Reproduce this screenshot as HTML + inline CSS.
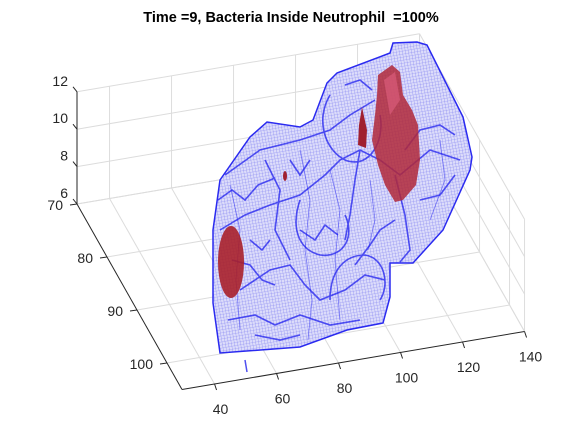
<!DOCTYPE html>
<html><head><meta charset="utf-8"><style>
body{margin:0;background:#fff;}
svg{display:block;font-family:"Liberation Sans",Arial,sans-serif;}
</style></head><body>
<svg id="chart" width="583" height="438" viewBox="0 0 583 438">
<defs>
<pattern id="mesh" width="3" height="3" patternUnits="userSpaceOnUse" patternTransform="rotate(-10)">
<rect width="3" height="3" fill="#dcdcfa"/>
<path d="M0 0H3M0 0V3" stroke="#7c7cf0" stroke-width="0.6"/>
</pattern>
</defs>
<text x="291" y="22" text-anchor="middle" font-size="14.5" font-weight="bold" fill="#000" xml:space="preserve">Time =9, Bacteria Inside Neutrophil  =100%</text>
<g id="grid"></g>
<g id="axes"></g>
<g>
<path d="M213,230 L220,180 L250,137 L267,122 L300,127 L313,120 L327,83 L337,73 L390,53 L393,43 L417,42 L427,45 L463,117 L472,157 L470,170 L443,230 L413,263 L390,263 L390,297 L383,323 L347,330 L300,347 L220,353 L213,303 Z" fill="url(#mesh)" stroke="#2a2af0" stroke-width="1.5"/>
<g fill="none" stroke="#1515ee" stroke-width="1.6" opacity="0.7">
<path d="M225,175 L260,150 L300,140 L330,130 L350,115 L375,100"/>
<path d="M220,230 L245,215 L270,205 L300,195 L325,175 L340,160 L360,150 L380,160 L400,175 L430,150 L460,160"/>
<path d="M330,95 C315,120 325,150 345,160 C370,170 385,140 380,115"/>
<path d="M240,290 L270,270 L290,265 L305,285 L320,300 L345,290 L365,275 L385,280"/>
<path d="M228,320 L255,315 L275,325 L300,315 L330,325 L360,320"/>
<path d="M300,200 C290,230 300,250 320,255 C345,258 355,235 345,215"/>
<path d="M330,300 C330,270 345,255 365,255 C385,258 390,285 380,300"/>
<path d="M265,160 L280,190 L275,230 L290,260"/>
<path d="M395,175 L405,215 L410,250 L400,262"/>
<path d="M360,150 L355,180 L350,215 L345,240"/>
<path d="M420,200 L440,195 L455,175"/>
<path d="M250,240 L262,250 L270,240 M290,160 L300,175 L310,160"/>
<path d="M218,200 L232,190 L245,200 L258,185 L275,178"/>
<path d="M232,260 L250,265 L262,280 L275,285"/>
<path d="M300,230 L315,240 L325,225 L338,235"/>
<path d="M355,265 L370,245 L380,230 L395,220"/>
<path d="M405,150 L420,130 L440,125 L455,135"/>
<path d="M345,85 L360,80 L372,90"/>
<path d="M255,335 L280,340 L300,335"/>
</g>
<g fill="none" stroke="#1a1af0" stroke-width="0.8" opacity="0.5">
<path d="M230,185 L240,230 L236,280 L240,330"/>
<path d="M300,150 L310,200 L305,250 L312,300 L308,340"/>
<path d="M330,170 L340,210 L335,260 L340,320"/>
<path d="M370,180 L375,220 L368,250"/>
<path d="M440,140 L445,180 L430,220"/>
</g>
<path d="M245,360 L247,372" stroke="#5050f0" stroke-width="1.5"/>
</g>
<g>
<ellipse cx="231" cy="262" rx="13" ry="36" fill="#a8202a" opacity="0.9"/>
<path d="M378,75 L392,65 L400,72 L403,95 L412,110 L418,125 L420,160 L416,185 L403,200 L395,202 L385,185 L378,165 L372,140 L375,115 L377,95 Z" fill="#b02838" opacity="0.85"/>
<path d="M384,80 L395,72 L400,100 L390,115 Z" fill="#e06080" opacity="0.6"/>
<path d="M362,107 L367,130 L366,148 L358,145 L359,125 Z" fill="#a02030"/>
<ellipse cx="285" cy="176" rx="2" ry="5" fill="#a02030"/>
</g>
</svg>
<script>
const xTicks=[40,60,80,100,120,140];
const yTicks=[70,80,90,100];
const zTicks=[6,8,10,12];
const xLim=[29.5,140], yLim=[70,105], zLim=[6,12];
const A=[77,204];
function P(x,y,z){return [A[0]+(x-xLim[0])*3.1+(y-70)*3.0, A[1]-(x-xLim[0])*0.525+(y-70)*5.3-(z-6)*18.7];}
const NS='http://www.w3.org/2000/svg';
const grid=document.getElementById('grid'), axes=document.getElementById('axes');
function line(g,p,q,c,w,name){const l=document.createElementNS(NS,'line');l.setAttribute('x1',p[0]);l.setAttribute('y1',p[1]);l.setAttribute('x2',q[0]);l.setAttribute('y2',q[1]);l.setAttribute('stroke',c);l.setAttribute('stroke-width',w);


g.appendChild(l);}
function txt(x,y,s,anchor,name){const t=document.createElementNS(NS,'text');t.setAttribute('x',x);t.setAttribute('y',y);t.setAttribute('text-anchor',anchor);t.setAttribute('font-size','14');t.setAttribute('fill','#262626');t.textContent=s;


axes.appendChild(t);}
const gc='#dcdcdc';
xTicks.forEach(x=>{line(grid,P(x,yLim[0],6),P(x,yLim[1],6),gc,1,'grid-x-floor');line(grid,P(x,70,6),P(x,70,12),gc,1,'grid-x-wall');});
yTicks.forEach(y=>{line(grid,P(xLim[0],y,6),P(xLim[1],y,6),gc,1,'grid-y-floor');line(grid,P(140,y,6),P(140,y,12),gc,1,'grid-y-wall');});
zTicks.forEach(z=>{line(grid,P(xLim[0],70,z),P(140,70,z),gc,1,'grid-z-back');line(grid,P(140,70,z),P(140,yLim[1],z),gc,1,'grid-z-side');});
line(grid,P(140,yLim[1],6),P(140,yLim[1],12),gc,1,'grid-edge');
const ac='#262626';
line(axes,P(xLim[0],70,6),P(xLim[0],70,12),ac,1,'z-axis');
line(axes,P(xLim[0],70,6),P(xLim[0],yLim[1],6),ac,1,'y-axis');
line(axes,P(xLim[0],yLim[1],6),P(xLim[1],yLim[1],6),ac,1,'x-axis');
xTicks.forEach(x=>{const p=P(x,yLim[1],6);line(axes,p,[p[0]+2,p[1]+6],ac,1,'x-tick');txt(p[0]+6,p[1]+30,String(x),'middle','x-tick-label');});
yTicks.forEach(y=>{const p=P(xLim[0],y,6);line(axes,p,[p[0]-7,p[1]+1],ac,1,'y-tick');txt(p[0]-14,p[1]+6,String(y),'end','y-tick-label');});
zTicks.forEach(z=>{const p=P(xLim[0],70,z);line(axes,p,[p[0]-4,p[1]-5],ac,1,'z-tick');txt(p[0]-9,p[1]-6,String(z),'end','z-tick-label');});
</script>
</body></html>
